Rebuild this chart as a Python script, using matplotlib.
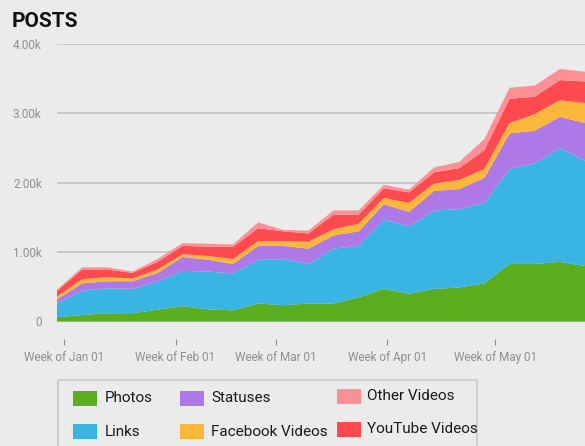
import pandas as pd
import matplotlib
matplotlib.use('Agg')
import matplotlib.pyplot as plt
from matplotlib.patches import Rectangle
from matplotlib.ticker import FuncFormatter

# weekly post counts by type
weeks = pd.date_range('2018-12-30', periods=22, freq='7D')
photos = [60, 94, 118, 120, 170, 220, 175, 160, 260, 235, 260, 260, 350, 470, 400, 470, 490, 550, 830, 830, 860, 800]
links = [200, 351, 362, 350, 405, 510, 545, 535, 630, 665, 570, 790, 740, 1000, 970, 1130, 1130, 1160, 1370, 1450, 1640, 1520]
statuses = [60, 105, 100, 110, 125, 200, 170, 135, 200, 190, 220, 190, 210, 220, 210, 280, 290, 360, 510, 470, 450, 540]
fb_videos = [40, 60, 60, 40, 50, 40, 55, 70, 70, 70, 100, 90, 110, 90, 130, 110, 130, 130, 150, 240, 240, 290]
youtube = [80, 140, 110, 80, 110, 120, 135, 175, 185, 140, 120, 210, 130, 140, 150, 160, 170, 270, 350, 250, 290, 310]
other_videos = [20, 30, 30, 20, 40, 40, 40, 35, 85, 20, 40, 60, 60, 50, 40, 70, 90, 160, 160, 160, 160, 140]

names = ['Photos', 'Links', 'Statuses', 'Facebook Videos', 'YouTube Videos', 'Other Videos']
colors = ['#59ad1f', '#3ab4e2', '#ae78e6', '#fbb73a', '#fd4a4f', '#fd9094']
month_ticks = pd.to_datetime(['2019-01-01', '2019-02-01', '2019-03-01', '2019-04-01', '2019-05-01'])

bg = '#ebebeb'
W, H = 585, 446
fig = plt.figure(figsize=(W / 100, H / 100), dpi=100, facecolor=bg)
ax = fig.add_axes([57 / W, 1 - 321.5 / H, 1 - 57 / W, (321.5 - 44) / H], facecolor=bg)

ax.stackplot(weeks, photos, links, statuses, fb_videos, youtube, other_videos,
             colors=colors, linewidth=0)

ax.set_xlim(weeks[0], weeks[-1])
ax.set_ylim(0, 4000)
ax.set_yticks([0, 1000, 2000, 3000, 4000])
ax.yaxis.set_major_formatter(FuncFormatter(lambda v, p: '0' if v == 0 else f'{v / 1000:.2f}k'))
ax.set_xticks(month_ticks)
ax.set_xticklabels([d.strftime('Week of %b %d') for d in month_ticks])

ax.grid(axis='y', color='#c2c2c2', linewidth=1.2)
ax.set_axisbelow(True)
for s in ['top', 'right', 'left']:
    ax.spines[s].set_visible(False)
ax.spines['bottom'].set_position(('outward', 12.5))
ax.spines['bottom'].set_color('none')

ax.tick_params(axis='y', length=0, pad=11, labelsize=8.5, labelcolor='#8f8f8f')
ax.tick_params(axis='x', length=4.5, width=0.8, color='#8f8f8f', pad=4.5,
               labelsize=8.5, labelcolor='#8f8f8f')
for lbl in ax.get_xticklabels() + ax.get_yticklabels():
    lbl.set_family('Roboto')

fig.text(12 / W, 1 - 27 / H, 'POSTS', family='Roboto', weight='bold', fontsize=15,
         color='#111111', va='baseline')

# legend box
fig.add_artist(Rectangle((58 / W, 1 - 449 / H), 419 / W, 69 / H, transform=fig.transFigure,
                         facecolor='none', edgecolor='#cfcfcf', linewidth=1.5))
legend_order = [0, 1, 2, 3, 5, 4]
slots = [(73, 105, 398.5), (73, 105, 431.5), (180, 211, 398.5), (180, 211, 431.5),
         (337, 367, 396), (337, 367, 429)]
for i, (sx, tx, cy) in zip(legend_order, slots):
    fig.add_artist(Rectangle((sx / W, 1 - (cy + 7.5) / H), 24 / W, 15 / H,
                             transform=fig.transFigure, facecolor=colors[i], edgecolor='none'))
    fig.text(tx / W, 1 - cy / H, names[i], family='Roboto',
             fontsize=11, color='#1a1a1a', va='center')

fig.savefig('out.png', dpi=100, facecolor=bg)
